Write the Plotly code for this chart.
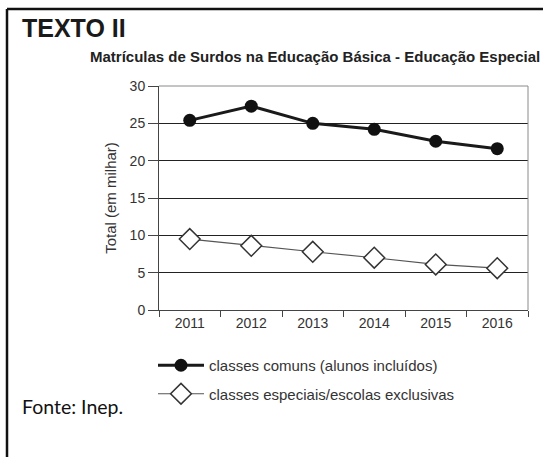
import plotly.graph_objects as go

years = ["2011", "2012", "2013", "2014", "2015", "2016"]
comuns = [25.4, 27.3, 25.0, 24.2, 22.6, 21.6]
especiais = [9.5, 8.6, 7.8, 7.0, 6.1, 5.6]
name_comuns = "classes comuns (alunos incluídos)"
name_especiais = "classes especiais/escolas exclusivas"
y_ticks = [0, 5, 10, 15, 20, 25, 30]

W, H = 543, 457
L, R, T, B = 159, 15, 86, 147
pw, ph = W - L - R, H - T - B

def px(x):
    return (x - L) / pw

def py(y):
    return (H - B - y) / ph

fig = go.Figure()
fig.add_trace(go.Scatter(
    x=years, y=comuns, name=name_comuns, mode="lines+markers",
    line=dict(color="#1a1a1a", width=3),
    marker=dict(symbol="circle", size=13, color="#111111"),
    legendgroup="a",
))
fig.add_trace(go.Scatter(
    x=years, y=especiais, name=name_especiais, mode="lines+markers",
    line=dict(color="#555555", width=1.2),
    marker=dict(symbol="diamond", size=16, color="white",
                line=dict(color="#333333", width=1.5)),
    legendgroup="b",
))

font = "Liberation Sans, Arial, sans-serif"
fig.update_layout(
    width=W, height=H,
    margin=dict(l=L, r=R, t=T, b=B),
    paper_bgcolor="white", plot_bgcolor="white",
    font=dict(family=font, size=14, color="#333333"),
    showlegend=True,
    legend=dict(x=px(153), y=py(349), xanchor="left", yanchor="top",
                font=dict(size=15, color="#333333"), tracegroupgap=6,
                bgcolor="rgba(0,0,0,0)", itemwidth=46),
    xaxis=dict(type="category", range=[-0.5, 5.5], showgrid=False,
               showline=True, linecolor="#444444", linewidth=1,
               ticks="outside", tickson="boundaries", ticklen=6,
               tickcolor="#444444", tickfont=dict(size=14, color="#333333")),
    yaxis=dict(range=[0, 30], tickvals=y_ticks, showgrid=True,
               gridcolor="#222222", gridwidth=1, zeroline=False,
               showline=True, linecolor="#444444", linewidth=1,
               ticks="outside", ticklen=10, tickcolor="#444444",
               tickfont=dict(size=14, color="#333333"),
               title=dict(text="Total (em milhar)", font=dict(size=15, color="#333333"),
                          standoff=9)),
)

# grey top and right frame of plot area
fig.add_shape(type="line", xref="paper", yref="paper", x0=0, x1=1, y0=1, y1=1,
              line=dict(color="#8a8a8a", width=1))
fig.add_shape(type="line", xref="paper", yref="paper", x0=1, x1=1, y0=0, y1=1,
              line=dict(color="#8a8a8a", width=1))
# outer page border (top and left)
fig.add_shape(type="line", xref="paper", yref="paper", x0=px(7), x1=px(545), y0=py(9), y1=py(9),
              line=dict(color="#111111", width=2.5))
fig.add_shape(type="line", xref="paper", yref="paper", x0=px(7), x1=px(7), y0=py(9), y1=py(460),
              line=dict(color="#111111", width=2.5))

fig.add_annotation(text="<b>TEXTO II</b>", xref="paper", yref="paper",
                   x=px(20), y=py(28), xanchor="left", yanchor="middle", showarrow=False,
                   font=dict(family=font, size=25, color="#1a1a1a"))
fig.add_annotation(text="<b>Matrículas de Surdos na Educação Básica - Educação Especial</b>",
                   xref="paper", yref="paper", x=px(88), y=py(57), xanchor="left",
                   yanchor="middle", showarrow=False,
                   font=dict(family=font, size=15, color="#222222"))
fig.add_annotation(text="Fonte: Inep.", xref="paper", yref="paper",
                   x=px(20), y=py(406), xanchor="left", yanchor="middle", showarrow=False,
                   font=dict(family="Lato, Carlito, sans-serif", size=19.5, color="#111111"))

fig.write_html("out.html", config={"displayModeBar": False},
               post_script="document.body.style.margin='0';")
